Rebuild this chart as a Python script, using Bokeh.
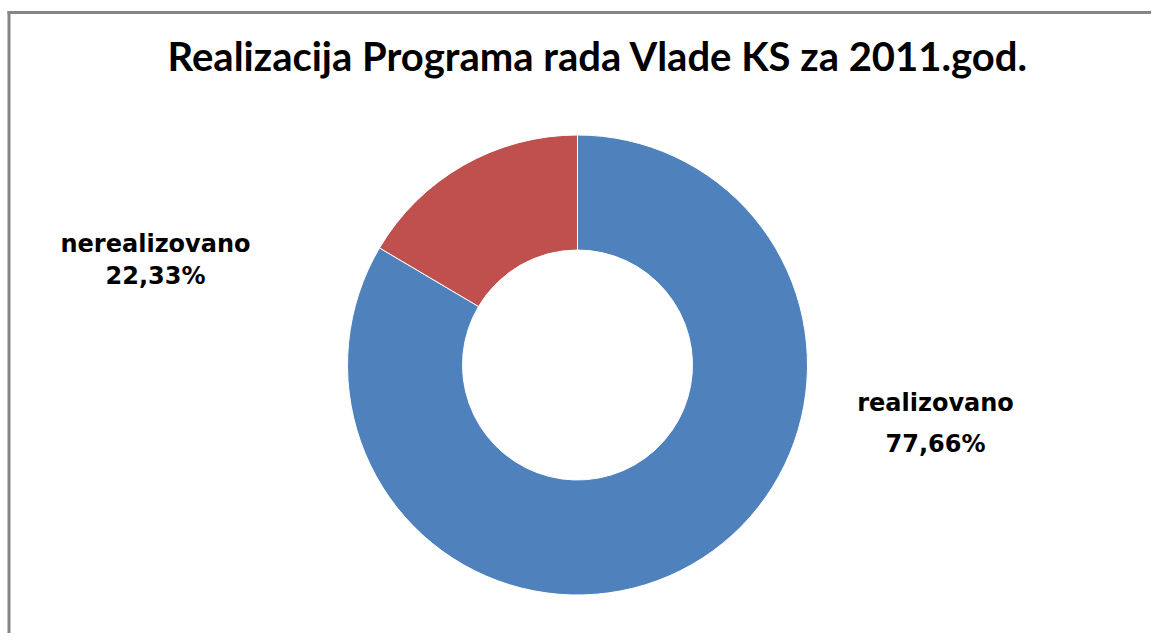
import math
from bokeh.plotting import figure
from bokeh.models import ColumnDataSource, Range1d
from bokeh.core.properties import value
from bokeh.embed import file_html
from bokeh.resources import INLINE

# ---- data ----
categories = ["realizovano", "nerealizovano"]
shares = [83.5, 16.5]            # slice sizes as drawn in the picture
label_values = ["77,66%", "22,33%"]
colors = ["#4F81BD", "#C0504D"]
title_text = "Realizacija Programa rada Vlade KS za 2011.god."

W, H = 1151, 633
p = figure(width=W, height=H, output_backend="svg", toolbar_location=None,
           x_range=Range1d(0, W), y_range=Range1d(0, H), min_border=0)
p.axis.visible = False
p.grid.visible = False
p.outline_line_color = None
p.background_fill_color = "white"
p.border_fill_color = "white"

# frame (left and top visible)
p.line([8.5, 8.5], [0, 622.5], line_color="#868686", line_width=3)
p.line([7, W], [621, 621], line_color="#868686", line_width=3)

# donut
cx, cy = 577, 268.5
total = sum(shares)
starts, ends = [], []
a = math.pi / 2
for s in shares:
    starts.append(a)
    a -= 2 * math.pi * s / total
    ends.append(a)
src = ColumnDataSource(dict(cat=categories, start=starts, end=ends, color=colors))
p.annular_wedge(x=cx, y=cy, inner_radius=115, outer_radius=230,
                start_angle="start", end_angle="end", direction="clock",
                fill_color="color", line_color="white", line_width=1, source=src)

# title
p.text(x=[597.5], y=[578], text=[title_text], text_font=value("Lato"),
       text_font_style="bold", text_font_size="40px", text_align="center",
       text_baseline="alphabetic", text_color="black")

# data labels
lab_x = [935, 155]
lab_y1 = [230.3, 389.3]
lab_y2 = [189.3, 357.7]
p.text(x=lab_x, y=lab_y1, text=categories, text_font=value("DejaVu Sans"),
       text_font_style="bold", text_font_size="24px", text_align="center",
       text_baseline="alphabetic", text_color="black")
p.text(x=lab_x, y=lab_y2, text=label_values, text_font=value("DejaVu Sans"),
       text_font_style="bold", text_font_size="24px", text_align="center",
       text_baseline="alphabetic", text_color="black")

open("out.html", "w").write(file_html(p, INLINE))
